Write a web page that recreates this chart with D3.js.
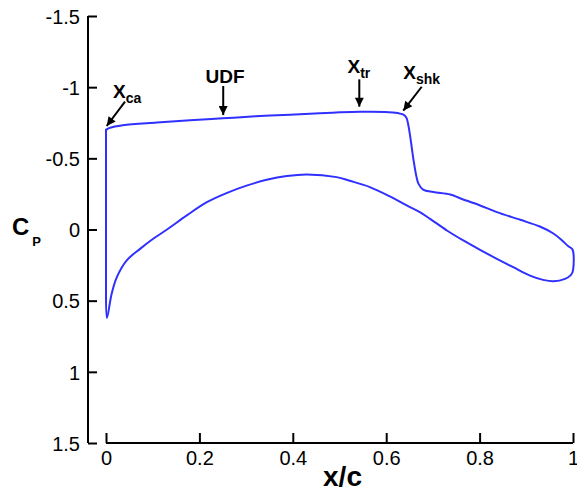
<!DOCTYPE html>
<html>
<head>
<meta charset="utf-8">
<script src="https://cdn.jsdelivr.net/npm/d3@7"></script>
<style>
  html, body { margin: 0; padding: 0; background: #fff; }
  svg { display: block; font-family: "Liberation Sans", Arial, Helvetica, sans-serif; }
</style>
</head>
<body>
<svg id="chart" width="577" height="493"></svg>
<script>
// ---- data ----
const xTicks = [0, 0.2, 0.4, 0.6, 0.8, 1];
const xTickLabels = ["0", "0.2", "0.4", "0.6", "0.8", "1"];
const yTicks = [-1.5, -1, -0.5, 0, 0.5, 1, 1.5];
const yTickLabels = ["-1.5", "-1", "-0.5", "0", "0.5", "1", "1.5"];

// upper (suction) surface, leading edge -> trailing edge
const upperX  = [0.000, 0.008, 0.036, 0.109, 0.180, 0.250, 0.320, 0.394, 0.458, 0.500, 0.544, 0.597, 0.625, 0.636, 0.643, 0.647, 0.652, 0.658, 0.665, 0.669, 0.679, 0.701, 0.737, 0.758, 0.801, 0.837, 0.887, 0.929, 0.958, 0.976, 0.990, 0.999];
const upperCp = [-0.700, -0.714, -0.733, -0.752, -0.768, -0.781, -0.795, -0.807, -0.817, -0.823, -0.827, -0.826, -0.818, -0.808, -0.787, -0.740, -0.640, -0.500, -0.368, -0.322, -0.280, -0.263, -0.246, -0.220, -0.169, -0.122, -0.068, -0.021, 0.028, 0.075, 0.118, 0.140];

// lower (pressure) surface, leading edge -> trailing edge
const lowerX  = [0.000, 0.002, 0.012, 0.023, 0.044, 0.073, 0.101, 0.130, 0.173, 0.216, 0.258, 0.301, 0.344, 0.387, 0.430, 0.494, 0.522, 0.565, 0.608, 0.644, 0.672, 0.694, 0.730, 0.765, 0.801, 0.837, 0.872, 0.908, 0.936, 0.958, 0.983, 0.994, 0.999];
const lowerCp = [0.450, 0.622, 0.453, 0.336, 0.218, 0.136, 0.065, 0.002, -0.099, -0.192, -0.256, -0.308, -0.349, -0.376, -0.387, -0.368, -0.342, -0.298, -0.232, -0.169, -0.122, -0.075, 0.007, 0.077, 0.143, 0.206, 0.265, 0.324, 0.354, 0.364, 0.347, 0.324, 0.300];

// annotations: label, subscript, text anchor (x, Cp), arrow start, arrow tip
const annLabels = ["X", "UDF", "X", "X"];
const annSubs   = ["ca", "", "tr", "shk"];
const annTextX  = [0.015, 0.2548, 0.517, 0.6366];
const annTextCp = [-0.922, -1.027, -1.097, -1.055];
const annFromX  = [0.0407, 0.251, 0.5424, 0.676];
const annFromCp = [-0.898, -1.008, -1.055, -1.003];
const annToX    = [0.0015, 0.251, 0.5424, 0.6366];
const annToCp   = [-0.727, -0.804, -0.863, -0.835];

// ---- layout ----
const svg = d3.select("#chart");
const x = d3.scaleLinear().domain([0, 1]).range([106, 573]);
const y = d3.scaleLinear().domain([-1.5, 1.5]).range([16, 443]);
const yAxisX = 88;
const xAxisY = 443;
const FONT = '"Liberation Sans", Arial, Helvetica, sans-serif';

// x axis
const gx = svg.append("g").attr("transform", `translate(0,${xAxisY})`)
  .call(d3.axisTop(x).tickValues(xTicks).tickSize(10).tickFormat(() => ""));
gx.select(".domain").attr("d", `M${x(0)},0H${x(1)}`).attr("stroke", "#000").attr("stroke-width", 2);
gx.selectAll(".tick line").attr("stroke", "#000").attr("stroke-width", 2);
gx.selectAll(".tick").append("text")
  .attr("y", 22).attr("fill", "#000").attr("text-anchor", "middle")
  .style("font-size", "20px").style("font-family", FONT)
  .text((d, i) => xTickLabels[i]);

// y axis (ticks pointing inward)
const gy = svg.append("g").attr("transform", `translate(${yAxisX},0)`)
  .call(d3.axisRight(y).tickValues(yTicks).tickSize(9).tickFormat(() => ""));
gy.select(".domain").attr("d", `M0,${y(-1.5)}V${y(1.5)}`).attr("stroke", "#000").attr("stroke-width", 2);
gy.selectAll(".tick line").attr("stroke", "#000").attr("stroke-width", 2);
gy.selectAll(".tick").append("text")
  .attr("x", -8).attr("dy", "0.36em").attr("fill", "#000").attr("text-anchor", "end")
  .style("font-size", "20px").style("font-family", FONT)
  .text((d, i) => yTickLabels[i]);

// axis titles
svg.append("text").attr("x", (x(0) + x(1)) / 2 + 3).attr("y", 486)
  .attr("text-anchor", "middle").attr("font-weight", "bold").style("font-size", "28px")
  .text("x/c");
const cp = svg.append("text").attr("x", 12).attr("y", 235)
  .attr("font-weight", "bold").style("font-size", "24px");
cp.append("tspan").text("C");
cp.append("tspan").style("font-size", "13px").attr("dy", 11).attr("dx", 3).text("P");

// curve: leading-edge vertical (straight) + smooth contour around the rest
const upperPts = upperX.map((v, i) => [v, upperCp[i]]);
const lowerPts = lowerX.map((v, i) => [v, lowerCp[i]]);
const contour = upperPts.concat(lowerPts.slice().reverse());
const smooth = d3.line().x(d => x(d[0])).y(d => y(d[1])).curve(d3.curveCatmullRom.alpha(0.5));
const straight = d3.line().x(d => x(d[0])).y(d => y(d[1]));
const g = svg.append("g").attr("fill", "none").attr("stroke", "#3030ff")
  .attr("stroke-width", 2).attr("stroke-linejoin", "round").attr("stroke-linecap", "round");
g.append("path").datum(contour).attr("d", smooth);
g.append("path").datum([lowerPts[0], upperPts[0]]).attr("d", straight);

// arrowheads
svg.append("defs").append("marker")
  .attr("id", "ah").attr("viewBox", "0 0 10 10").attr("refX", 10).attr("refY", 5)
  .attr("markerWidth", 11).attr("markerHeight", 9).attr("markerUnits", "userSpaceOnUse")
  .attr("orient", "auto")
  .append("path").attr("d", "M0,0L10,5L0,10Z").attr("fill", "#000");

annLabels.forEach((lab, i) => {
  svg.append("line")
    .attr("x1", x(annFromX[i])).attr("y1", y(annFromCp[i]))
    .attr("x2", x(annToX[i])).attr("y2", y(annToCp[i]))
    .attr("stroke", "#000").attr("stroke-width", 2).attr("marker-end", "url(#ah)");
  const t = svg.append("text")
    .attr("x", x(annTextX[i])).attr("y", y(annTextCp[i]))
    .attr("text-anchor", annSubs[i] ? "start" : "middle")
    .attr("font-weight", "bold").style("font-size", "19px");
  t.append("tspan").text(lab);
  if (annSubs[i]) t.append("tspan").style("font-size", "14px").attr("dy", 5).text(annSubs[i]);
});
</script>
</body>
</html>
